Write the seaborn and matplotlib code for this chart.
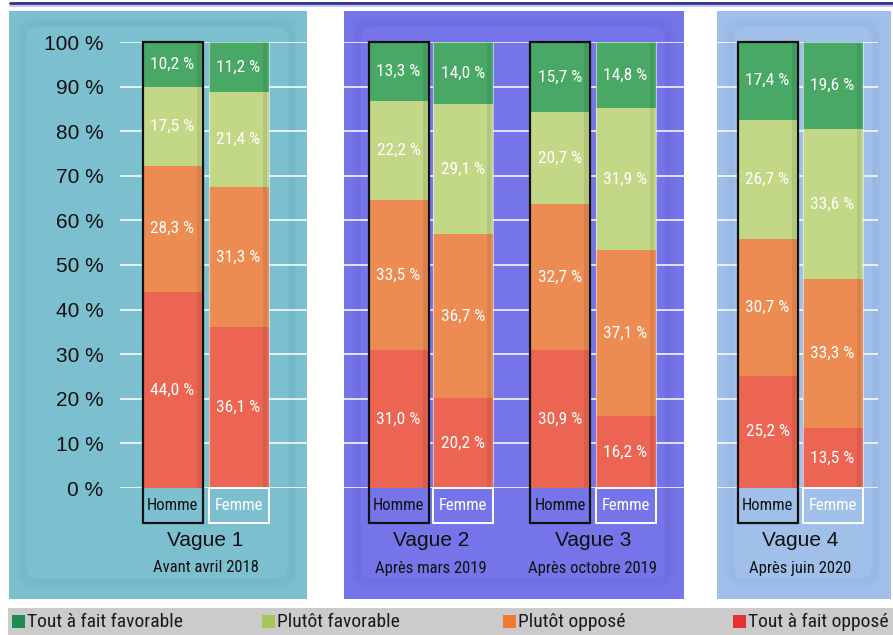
import matplotlib
matplotlib.use("Agg")
from matplotlib import pyplot as plt
from matplotlib import font_manager
from matplotlib.patches import Rectangle, FancyBboxPatch
import numpy as np
import seaborn as sns

# données
vagues = ['Vague 1', 'Vague 2', 'Vague 3', 'Vague 4']
periodes = ['Avant avril 2018', 'Après mars 2019', 'Après octobre 2019', 'Après juin 2020']
sexes = ['Homme', 'Femme']
categories = ['Tout à fait opposé', 'Plutôt opposé', 'Plutôt favorable', 'Tout à fait favorable']
oppose_fort = [44.0, 36.1, 31.0, 20.2, 30.9, 16.2, 25.2, 13.5]
oppose = [28.3, 31.3, 33.5, 36.7, 32.7, 37.1, 30.7, 33.3]
favorable = [17.5, 21.4, 22.2, 29.1, 20.7, 31.9, 26.7, 33.6]
favorable_fort = [10.2, 11.2, 13.3, 14.0, 15.7, 14.8, 17.4, 19.6]
yticks = [0, 10, 20, 30, 40, 50, 60, 70, 80, 90, 100]

# mise en page (pixels)
bar_x = [172.5, 238.5, 398.5, 463, 560, 625.5, 767.5, 832.5]
bar_w = 60
panels = [(9, 307, '#7cc0d0', '#5d9aab'), (344, 684, '#7575e9', '#5656b8'),
          (717, 891, '#a0c0ea', '#7f9dc9')]
grid_spans = [(120, 307), (344, 684), (717, 878)]
bar_colors = ['#ec6552', '#ec8c52', '#c3d887', '#4aa866']
legend_colors = ['#e83232', '#f27a2e', '#a7c65a', '#1e8c50']

sns.set_style('white')
plt.rcParams['font.family'] = ['Liberation Sans', 'DejaVu Sans']

# police étroite si disponible, sinon Liberation Sans réduite
installed = {f.name for f in font_manager.fontManager.ttflist}
narrow_font, k = 'Liberation Sans', 0.84
for name in ['Roboto Condensed', 'Open Sans Condensed', 'Liberation Sans Narrow', 'DejaVu Sans Condensed']:
    if name in installed:
        narrow_font, k = name, 1.0
        break
narrow = [narrow_font, 'DejaVu Sans']

W, H = 893, 635
fig = plt.figure(figsize=(W / 100, H / 100), dpi=100)
fig.patch.set_facecolor('white')

# fond (coordonnées pixels)
bg = fig.add_axes([0, 0, 1, 1])
bg.set_xlim(0, W)
bg.set_ylim(H, 0)
bg.axis('off')
bg.plot([10, W], [3, 3], color='#2e2e90', lw=2)
bg.plot([10, W], [5.5, 5.5], color='#c8c8ee', lw=1.5)
for x0, x1, c, sh in panels:
    bg.add_patch(Rectangle((x0, 11), x1 - x0, 588, facecolor=c, edgecolor='none'))
    for j, a in enumerate([0.06, 0.08, 0.10, 0.12]):
        bg.add_patch(FancyBboxPatch((x0 + 10 + j * 2, 20 + j * 2), x1 - x0 - 22 - j * 4, 565 - j * 4,
                                    boxstyle='round,pad=0,rounding_size=14', facecolor='none',
                                    edgecolor=sh, lw=5 - j, alpha=a))
    bg.add_patch(FancyBboxPatch((x0 + 18, 28), x1 - x0 - 38, 550,
                                boxstyle='round,pad=0,rounding_size=10', facecolor=c,
                                edgecolor='none'))

# légende
bg.add_patch(Rectangle((8, 608), W - 8, 27, facecolor='#cbcbcb', edgecolor='none'))
leg_x = [12, 262, 503, 733]
leg_order = [3, 2, 1, 0]
for lx, i in zip(leg_x, leg_order):
    bg.add_patch(Rectangle((lx, 615), 13, 13, facecolor=legend_colors[i], edgecolor='none'))
    bg.text(lx + 15, 622, categories[i], fontsize=14 * k, family=narrow, color='#1a1a1a',
            va='center', ha='left')

# graphique
ax = fig.add_axes([120 / W, (H - 488) / H, (W - 120) / W, 446 / H])
ax.patch.set_alpha(0)
ax.set_xlim(120, W)
ax.set_ylim(0, 100)
for s in ax.spines.values():
    s.set_visible(False)
ax.set_xticks([])
ax.set_yticks(yticks)
ax.set_yticklabels([f'{t} %' for t in yticks])
ax.tick_params(axis='y', length=0, pad=12, labelsize=15, labelcolor='#111111')

for x0, x1 in grid_spans:
    ax.hlines(yticks, max(x0, 120), x1, color='white', lw=1.3, alpha=0.85, zorder=1)

series = [oppose_fort, oppose, favorable, favorable_fort]
bottom = np.zeros(len(bar_x))
for vals, col in zip(series, bar_colors):
    vals = np.array(vals)
    ax.bar(bar_x, vals, width=bar_w, bottom=bottom, color=col, edgecolor='none', zorder=2)
    # léger ombrage à droite
    ax.bar(np.array(bar_x) + bar_w / 2 - 4, vals, width=4, bottom=bottom, color='black',
           alpha=0.08, edgecolor='none', zorder=3)
    for x, b, v in zip(bar_x, bottom, vals):
        ax.text(x, b + v / 2, f'{v:.1f} %'.replace('.', ','), ha='center', va='center',
                color='white', fontsize=12.5 * k, family=narrow, zorder=5)
    bottom += vals

low = -(523 - 488) / 4.46
for i, x in enumerate(bar_x):
    sexe = sexes[i % 2]
    if sexe == 'Homme':
        ax.add_patch(Rectangle((x - bar_w / 2, low), bar_w, 100 - low, facecolor='none',
                               edgecolor='#111111', lw=1.6, zorder=6, clip_on=False))
        ax.text(x, -3.9, sexe, ha='center', va='center', fontsize=12 * k, family=narrow,
                color='#111111', clip_on=False)
    else:
        ax.add_patch(Rectangle((x - bar_w / 2, low), bar_w, -low, facecolor='none',
                               edgecolor='white', lw=1.4, zorder=6, clip_on=False))
        ax.add_patch(Rectangle((x - bar_w / 2, 0), bar_w, 100, facecolor='none',
                               edgecolor='white', lw=0.8, alpha=0.5, zorder=6))
        ax.text(x, -3.9, sexe, ha='center', va='center', fontsize=12 * k, family=narrow,
                color='white', clip_on=False)

for j, (v, p) in enumerate(zip(vagues, periodes)):
    xc = (bar_x[2 * j] + bar_x[2 * j + 1]) / 2
    ax.text(xc, -(541 - 488) / 4.46, v, ha='center', va='center', fontsize=15,
            color='#111111', clip_on=False)
    ax.text(xc, -(568 - 488) / 4.46, p, ha='center', va='center', fontsize=12 * k,
            family=narrow, color='#111111', clip_on=False)

fig.savefig('out.png', dpi=100)
